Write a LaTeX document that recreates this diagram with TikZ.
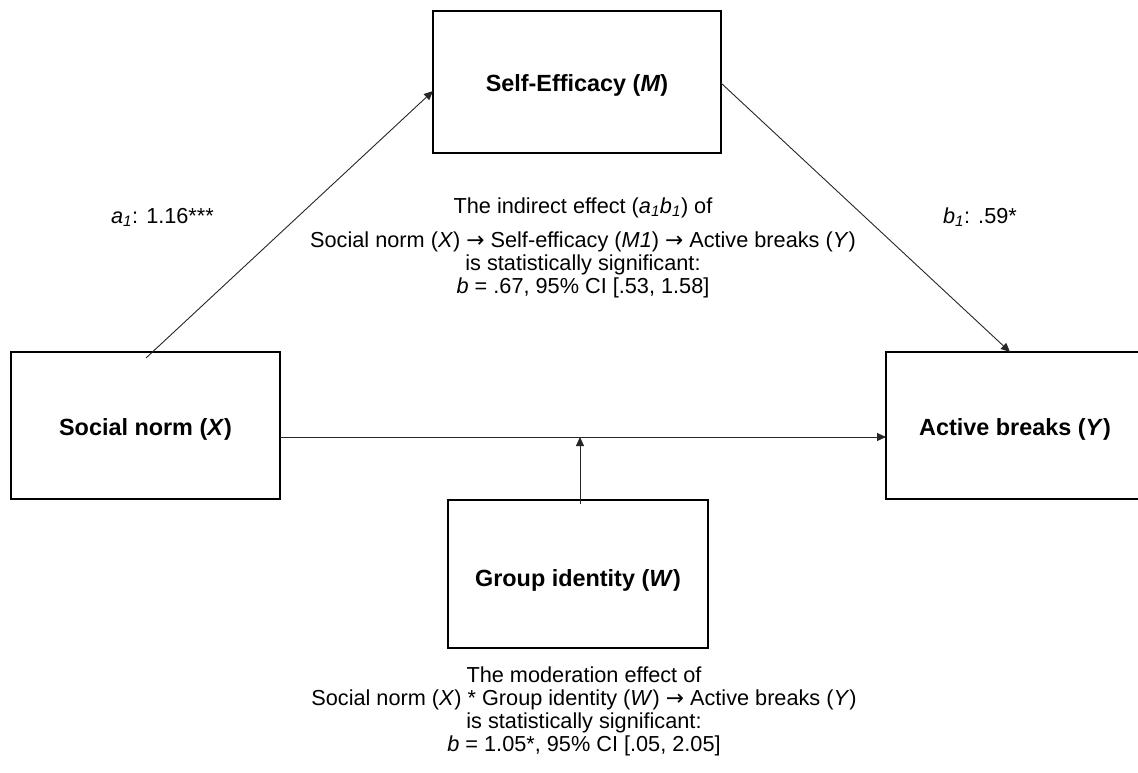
\documentclass[tikz,border=0pt]{standalone}
\usepackage{fontspec}
\setmainfont{Liberation Sans}
\newfontfamily\arrowfont{DejaVu Sans}
\newcommand{\myarrow}{{\arrowfont →}}
\usetikzlibrary{arrows.meta,calc}
\tikzset{
  box/.style={draw=black, line width=1.6bp, inner sep=0pt, outer sep=0pt,
    text height=20bp, text depth=0bp,
    font=\fontsize{23.4bp}{26bp}\selectfont\bfseries},
  conn/.style={draw=black!85, line width=0.9bp, -{Triangle[length=9bp,width=8bp]}},
  txt/.style={font=\fontsize{21.7bp}{23bp}\selectfont, inner sep=0pt, anchor=base},
}
\begin{document}
\begin{tikzpicture}[x=1bp,y=-1bp]
\useasboundingbox (0,0) rectangle (1138,773);
\clip (0,0) rectangle (1138,773);
% boxes
\node[box, minimum width=288bp, minimum height=142bp] (M) at (577,82) {Self-Efficacy (\textit{M})};
\node[box, minimum width=269bp, minimum height=147bp] (X) at (145.5,425.5) {Social norm (\textit{X})};
\node[box, minimum width=258bp, minimum height=147bp] (Y) at (1015,425.5) {Active breaks (\textit{Y})};
\node[box, minimum width=260bp, minimum height=148bp, text height=24bp] (W) at (578,574) {Group identity (\textit{W})};
% connectors
\coordinate (a1s) at ($(X.north)+(0.5,6)$);
\coordinate (a1e) at ($(M.west)+(0,9)$);
\draw[conn] (a1s) -- (a1e);
\coordinate (b1s) at ($(M.east)+(0,1)$);
\coordinate (b1e) at ($(Y.north)+(-5,0)$);
\draw[conn] (b1s) -- (b1e);
\coordinate (xs) at ($(X.east)+(0,11.5)$);
\coordinate (ye) at ($(Y.west)+(0,11.5)$);
\draw[conn] (xs) -- (ye);
\coordinate (ws) at ($(W.north)+(2,4)$);
\coordinate (wm) at (580,437);
\draw[conn] (ws) -- (wm);
% labels
\node[txt] (la) at (162.5,223) {\textit{a}\textsubscript{\textit{1}}: 1.16***};
\node[txt] (lb) at (980,223) {\textit{b}\textsubscript{\textit{1}}: .59*};
\node[txt] (ind) at (583,213) {\begin{tabular}[t]{@{}c@{}}
The indirect effect (\textit{a}\textsubscript{\textit{1}}\textit{b}\textsubscript{\textit{1}}) of\\[11bp]
Social norm (\textit{X}) \myarrow{} Self-efficacy (\textit{M1}) \myarrow{} Active breaks (\textit{Y})\\
is statistically significant:\\
\textit{b} = .67, 95\% CI [.53, 1.58]
\end{tabular}};
\node[txt] (mod) at (584,682) {\begin{tabular}[t]{@{}c@{}}
The moderation effect of\\
Social norm (\textit{X}) * Group identity (\textit{W}) \myarrow{} Active breaks (\textit{Y})\\
is statistically significant:\\
\textit{b} = 1.05*, 95\% CI [.05, 2.05]
\end{tabular}};
\end{tikzpicture}
\end{document}
